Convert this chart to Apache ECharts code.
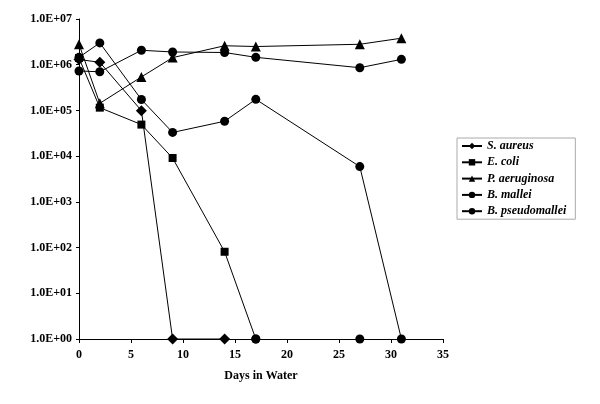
<!DOCTYPE html>
<html><head><meta charset="utf-8">
<script src="https://cdn.jsdelivr.net/npm/echarts@6/dist/echarts.min.js"></script>
<style>html,body{margin:0;padding:0;background:#fff}#c{width:600px;height:404px}</style>
</head><body><div id="c"></div>
<script>
// Days sampled
const daysAureus = [0, 2, 6, 9, 14];
const aureus = [1.3e6, 1.13e6, 9.9e4, 1, 1];
const daysColi = [0, 2, 6, 9, 14, 17];
const coli = [1.4e6, 1.15e5, 4.9e4, 9.1e3, 81, 1];
const daysAll = [0, 2, 6, 9, 14, 17, 27, 31];
const aeruginosa = [2.8e6, 1.43e5, 5.4e5, 1.43e6, 2.6e6, 2.5e6, 2.8e6, 3.8e6];
const mallei = [1.45e6, 3.0e6, 1.73e5, 3.3e4, 5.8e4, 1.75e5, 5.9e3, 1];
const pseudomallei = [7.3e5, 7.0e5, 2.07e6, 1.9e6, 1.85e6, 1.45e6, 8.6e5, 1.31e6];
// extra below-detection points drawn on the baseline
const daysBaseline = [17, 27];
const baseline = [1, 1];
const seriesNames = ['S. aureus', 'E. coli', 'P. aeruginosa', 'B. mallei', 'B. pseudomallei'];
const yTickLabels = ['1.0E+00','1.0E+01','1.0E+02','1.0E+03','1.0E+04','1.0E+05','1.0E+06','1.0E+07'];
const xAxisTitle = 'Days in Water';

const font = 'Liberation Serif';
function pairs(xs, ys) { return xs.map((x, i) => [x, ys[i]]); }
const lineStyle = { color: '#000', width: 1 };
const itemStyle = { color: '#000', opacity: 1 };
function mk(name, data, symbol, size, z) {
  return { name, type: 'line', data, symbol, symbolSize: size, lineStyle, itemStyle,
    showAllSymbol: true, animation: false, z: z || 3, emphasis: { disabled: true }, clip: false };
}
const coliData = pairs(daysColi, coli).map(p => p[1] === 1 ? { value: p, symbol: 'circle', symbolSize: 9 } : p);
const chart = echarts.init(document.getElementById('c'), null, { renderer: 'canvas' });
chart.setOption({
  animation: false,
  grid: { left: 79, right: 157, top: 19, bottom: 65, containLabel: false },
  xAxis: {
    type: 'value', min: 0, max: 35, interval: 5,
    name: xAxisTitle, nameLocation: 'middle', nameGap: 31,
    nameTextStyle: { fontFamily: font, fontWeight: 'bold', fontSize: 12, color: '#000' },
    axisLine: { onZero: false, lineStyle: { color: '#000', width: 1 } },
    axisTick: { show: true, length: 4, inside: false, lineStyle: { color: '#000' } },
    axisLabel: { fontFamily: font, fontWeight: 'bold', fontSize: 12, color: '#000', margin: 10 },
    splitLine: { show: false }
  },
  yAxis: {
    type: 'log', logBase: 10, min: 1, max: 1e7, interval: 1,
    axisLine: { show: true, lineStyle: { color: '#000', width: 1 } },
    axisTick: { show: true, length: 3, lineStyle: { color: '#000' } },
    axisLabel: { fontFamily: font, fontWeight: 'bold', fontSize: 12, color: '#000', margin: 7,
      formatter: v => yTickLabels[Math.round(Math.log10(v))] },
    splitLine: { show: false }
  },
  legend: {
    orient: 'vertical', left: 457, top: 138,
    data: seriesNames,
    itemWidth: 20, itemHeight: 8, itemGap: 4.3,
    padding: [2, 9, 2, 4],
    borderColor: '#aaa', borderWidth: 1, backgroundColor: '#fff',
    textStyle: { fontFamily: font, fontWeight: 'bold', fontStyle: 'italic', fontSize: 12, color: '#000', lineHeight: 12 },
    selectedMode: false
  },
  series: [
    mk(seriesNames[0], pairs(daysAureus, aureus), 'diamond', 11),
    mk(seriesNames[1], coliData, 'rect', 8, 4),
    mk(seriesNames[2], pairs(daysAll, aeruginosa), 'triangle', 10),
    mk(seriesNames[3], pairs(daysAll, mallei), 'circle', 9),
    mk(seriesNames[4], pairs(daysAll, pseudomallei), 'circle', 9),
    { type: 'scatter', data: pairs(daysBaseline, baseline), symbol: 'circle', symbolSize: 9,
      itemStyle, animation: false, z: 10, silent: true, legendHoverLink: false, clip: false }
  ]
});
</script></body></html>
